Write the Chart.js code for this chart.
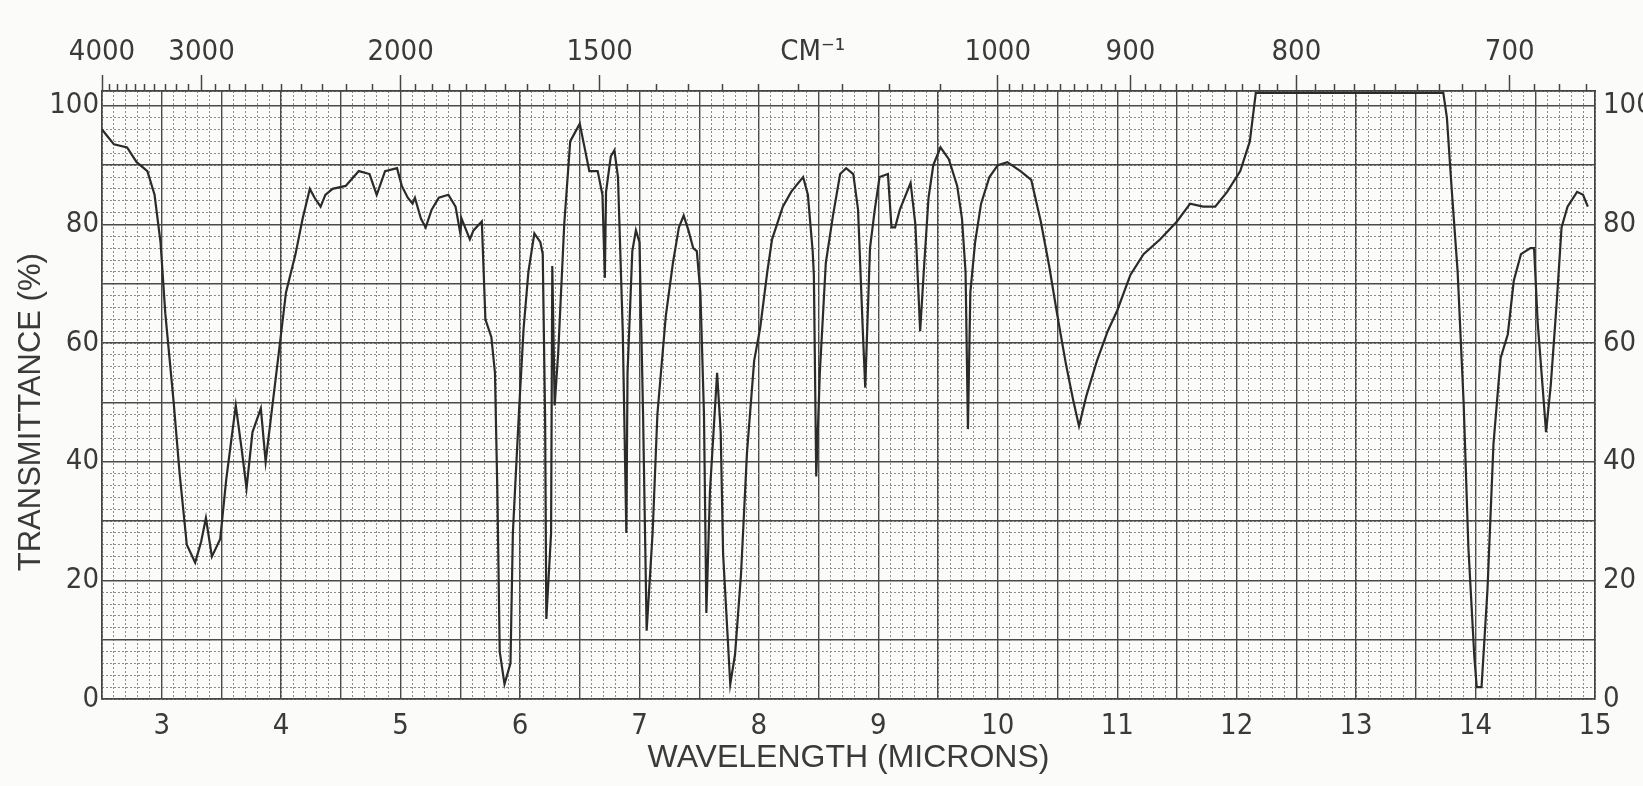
<!DOCTYPE html>
<html>
<head>
<meta charset="utf-8">
<script src="https://cdn.jsdelivr.net/npm/chart.js@4.4.1/dist/chart.umd.min.js"></script>
<style>
html, body { margin: 0; padding: 0; background: #fbfbfa; overflow: hidden; }
canvas { display: block; }
</style>
</head>
<body>
<canvas id="irChart" width="1643" height="786"></canvas>
<script>
// spectrum: wavelength (microns) and transmittance (%)
var microns = [
    2.50, 2.54, 2.60, 2.71, 2.79, 2.88, 2.94, 2.99, 3.03, 3.10, 3.15, 3.21, 3.28, 3.33, 3.37, 3.42,
    3.49, 3.54, 3.62, 3.67, 3.71, 3.76, 3.83, 3.87, 3.93, 3.99, 4.04, 4.12, 4.18, 4.24, 4.28, 4.33,
    4.37, 4.43, 4.54, 4.65, 4.74, 4.80, 4.87, 4.97, 5.01, 5.06, 5.10, 5.12, 5.17, 5.21, 5.26, 5.32,
    5.40, 5.46, 5.50, 5.51, 5.58, 5.61, 5.68, 5.71, 5.76, 5.79, 5.81, 5.83, 5.87, 5.92, 5.94, 5.99,
    6.03, 6.07, 6.12, 6.17, 6.19, 6.21, 6.22, 6.26, 6.27, 6.29, 6.32, 6.37, 6.42, 6.50, 6.54, 6.58,
    6.65, 6.69, 6.71, 6.72, 6.76, 6.79, 6.82, 6.86, 6.89, 6.90, 6.94, 6.97, 7.00, 7.03, 7.06, 7.11,
    7.15, 7.22, 7.28, 7.33, 7.37, 7.41, 7.45, 7.48, 7.51, 7.54, 7.56, 7.59, 7.65, 7.68, 7.70, 7.76,
    7.80, 7.85, 7.90, 7.96, 8.01, 8.07, 8.11, 8.20, 8.27, 8.31, 8.37, 8.41, 8.45, 8.46, 8.48, 8.51,
    8.56, 8.62, 8.68, 8.73, 8.79, 8.83, 8.87, 8.89, 8.93, 8.97, 9.01, 9.08, 9.11, 9.14, 9.18, 9.27,
    9.31, 9.35, 9.38, 9.42, 9.46, 9.52, 9.59, 9.66, 9.70, 9.73, 9.75, 9.77, 9.81, 9.86, 9.93, 10.00,
    10.08, 10.19, 10.28, 10.36, 10.43, 10.50, 10.57, 10.63, 10.68, 10.74, 10.83, 10.92, 11.00, 11.11, 11.22, 11.36,
    11.50, 11.61, 11.72, 11.82, 11.92, 12.03, 12.11, 12.16, 12.40, 12.80, 13.20, 13.73, 13.76, 13.80, 13.85, 13.90,
    13.94, 13.99, 14.01, 14.05, 14.10, 14.15, 14.21, 14.27, 14.32, 14.38, 14.46, 14.49, 14.52, 14.56, 14.59, 14.63,
    14.68, 14.72, 14.77, 14.85, 14.90, 14.94
];
var transmittance = [
    96, 95, 93.5, 93, 90.5, 89, 85, 77, 65, 50, 38, 26, 23, 26.5, 30.5, 24,
    27, 37, 49.5, 42, 35.5, 45, 49, 40, 50, 60, 68.5, 75, 81, 86, 84.5, 83,
    85, 86, 86.5, 89, 88.5, 85, 89, 89.5, 86.5, 84.5, 83.5, 84.5, 81, 79.5, 82.5, 84.5,
    85, 83, 78.5, 81, 77.5, 79, 80.5, 64, 61, 55, 35, 8, 2.5, 6, 28, 48,
    62.5, 72, 78.5, 77, 75, 47, 13.5, 28, 73, 49.5, 58.5, 80, 94, 97, 93, 89,
    89, 85, 71, 85.5, 91.5, 92.5, 88, 62, 28, 55, 75.5, 79, 77, 48, 11.5, 28,
    48, 64.5, 73.5, 79.5, 81.5, 79, 76, 75.5, 68.5, 48, 14.5, 35, 55, 45, 24.5, 2.5,
    7.5, 21, 41.5, 57, 62.5, 72, 77.5, 83, 85.5, 86.5, 88, 85, 75.5, 71.5, 37.5, 55,
    73.5, 81.5, 88.5, 89.5, 88.5, 82.5, 62, 52.5, 76, 82.5, 88, 88.5, 79.5, 79.5, 82.5, 87,
    80, 62, 72, 84.5, 90, 93, 91, 86.5, 81, 72, 45.5, 68.5, 77, 83.5, 88, 90,
    90.5, 89, 87.5, 80.5, 73, 64.5, 56.5, 50.5, 46, 51, 57, 62, 65.5, 71.5, 75, 77.5,
    80.5, 83.5, 83, 83, 85.5, 89, 94, 102.2, 102.2, 102.2, 102.2, 102.2, 98, 86, 72, 50,
    25.5, 7, 2, 2, 18.5, 43, 57.5, 61.5, 70.5, 75, 76, 76, 63.5, 53, 45, 53,
    67, 79.5, 83, 85.5, 85, 83
];

var xTickLabels = [3, 4, 5, 6, 7, 8, 9, 10, 11, 12, 13, 14, 15];
var yTickLabels = [0, 20, 40, 60, 80, 100];
var wavenumberLabels = [4000, 3000, 2000, 1500, 1000, 900, 800, 700];
var unitLabel = 'CM\u207B\u00B9';
var unitLabelAt = 8.45; // microns, where the unit sits on the top scale

var FONT = "'Liberation Sans Narrow', 'DejaVu Sans Condensed', 'Liberation Sans', sans-serif";
var TITLE_FONT = "'Liberation Sans', Arimo, sans-serif";
var TEXT = '#3a3a3a';
var Y_MAX = 102.5;

var points = microns.map(function (m, i) { return { x: m, y: transmittance[i] }; });

// top wavenumber scale: labelled ticks, then short ones, all at 10000/cm-1 microns
var topTicks = wavenumberLabels.map(function (w) { return { value: 10000 / w, label: String(w), major: true }; });
topTicks.push({ value: unitLabelAt, label: unitLabel, hidden: true });
var minorWavenumbers = [];
for (var w = 3900; w > 2000; w -= 100) minorWavenumbers.push(w);
for (w = 1950; w > 1000; w -= 50) minorWavenumbers.push(w);
for (w = 990; w >= 670; w -= 10) minorWavenumbers.push(w);
minorWavenumbers.forEach(function (wn) {
    if (wavenumberLabels.indexOf(wn) < 0) topTicks.push({ value: 10000 / wn, label: '' });
});
topTicks.sort(function (a, b) { return a.value - b.value; });

var yMajor = [];
for (var v = 0; v <= 100; v += 10) yMajor.push(v);
yMajor.push(Y_MAX);

function fixHeight(h) { return function (s) { s.height = h; }; }
function fixWidth(wd) { return function (s) { s.width = wd; }; }
function setTicks(values) {
    return function (s) { s.ticks = values.map(function (x) { return { value: x }; }); };
}
function yLabel(v) { return yTickLabels.indexOf(v) >= 0 ? String(v) : ''; }

var canvas = document.getElementById('irChart');
var ctx = canvas.getContext('2d');
var irChart = new Chart(ctx, {
    type: 'line',
    data: {
        datasets: [{
            data: points,
            borderColor: '#2b2b2b',
            borderWidth: 2.2,
            pointRadius: 0,
            tension: 0,
            fill: false,
            xAxisID: 'x',
            yAxisID: 'y'
        }]
    },
    options: {
        responsive: false,
        animation: false,
        layout: { padding: 0 },
        plugins: { legend: { display: false }, tooltip: { enabled: false } },
        scales: {
            xMinor: {
                type: 'linear', position: 'bottom', min: 2.5, max: 15, weight: 0, z: -1,
                ticks: { display: false, stepSize: 0.1, maxTicksLimit: 1000 },
                grid: { color: '#8c8c8c', lineWidth: 1, drawTicks: false },
                border: { display: false, dash: [2, 2] },
                afterFit: fixHeight(0)
            },
            x: {
                type: 'linear', position: 'bottom', min: 2.5, max: 15, weight: 1,
                ticks: {
                    stepSize: 0.5, autoSkip: false, maxRotation: 0, minRotation: 0, padding: 10,
                    maxTicksLimit: 1000, color: TEXT, font: { family: FONT, size: 29 },
                    callback: function (v) { return xTickLabels.indexOf(v) >= 0 ? String(v) : ''; }
                },
                grid: { color: '#4a4a4a', lineWidth: 1.4, drawTicks: false },
                border: { display: true, color: '#444', width: 1.5 },
                title: {
                    display: true, text: 'WAVELENGTH (MICRONS)', color: TEXT,
                    font: { family: TITLE_FONT, size: 32 }, padding: { top: 0, bottom: 9 }
                },
                afterFit: fixHeight(87)
            },
            xTop: {
                type: 'linear', position: 'top', min: 2.5, max: 15, weight: 1,
                afterBuildTicks: setTicks(topTicks.map(function (t) { return t.value; })),
                ticks: {
                    autoSkip: false, maxRotation: 0, minRotation: 0, padding: 5, maxTicksLimit: 1000,
                    color: TEXT, font: { family: FONT, size: 29 },
                    callback: function (v, i) { return topTicks[i].label; }
                },
                grid: {
                    drawOnChartArea: false, drawTicks: true, tickLength: 16, tickWidth: 1.5,
                    tickColor: function (c) {
                        var t = topTicks[c.index];
                        return (t && t.hidden) ? 'rgba(0,0,0,0)' : '#444';
                    },
                    // short marks for the unlabelled ticks: skip the outer part of the mark
                    tickBorderDash: function (c) {
                        var t = topTicks[c.index];
                        return (t && !t.major) ? [0, 9, 7, 100] : [];
                    }
                },
                border: { display: true, color: '#444', width: 1.5 },
                afterFit: fixHeight(91)
            },
            yMinor: {
                type: 'linear', position: 'left', min: 0, max: Y_MAX, weight: 0, z: -1,
                ticks: { display: false, stepSize: 2, maxTicksLimit: 1000 },
                grid: { color: '#8c8c8c', lineWidth: 1, drawTicks: false },
                border: { display: false, dash: [2, 2] },
                afterFit: fixWidth(0)
            },
            y: {
                type: 'linear', position: 'left', min: 0, max: Y_MAX, weight: 1,
                afterBuildTicks: setTicks(yMajor),
                ticks: {
                    padding: 3, maxTicksLimit: 1000, color: TEXT, font: { family: FONT, size: 29 },
                    callback: yLabel
                },
                grid: { color: '#4a4a4a', lineWidth: 1.4, drawTicks: false },
                border: { display: true, color: '#444', width: 1.5 },
                title: {
                    display: true, text: 'TRANSMITTANCE (%)\u00A0\u00A0\u00A0\u00A0', color: TEXT,
                    font: { family: TITLE_FONT, size: 31 }, padding: { top: 13, bottom: 0 }
                },
                afterFit: fixWidth(102)
            },
            yRight: {
                type: 'linear', position: 'right', min: 0, max: Y_MAX, weight: 1,
                afterBuildTicks: setTicks(yTickLabels),
                ticks: {
                    padding: 8, maxTicksLimit: 1000, color: TEXT, font: { family: FONT, size: 29 },
                    callback: yLabel
                },
                grid: { drawOnChartArea: false, drawTicks: false },
                border: { display: true, color: '#444', width: 1.5 },
                afterFit: fixWidth(48)
            }
        }
    }
});
</script>
</body>
</html>
